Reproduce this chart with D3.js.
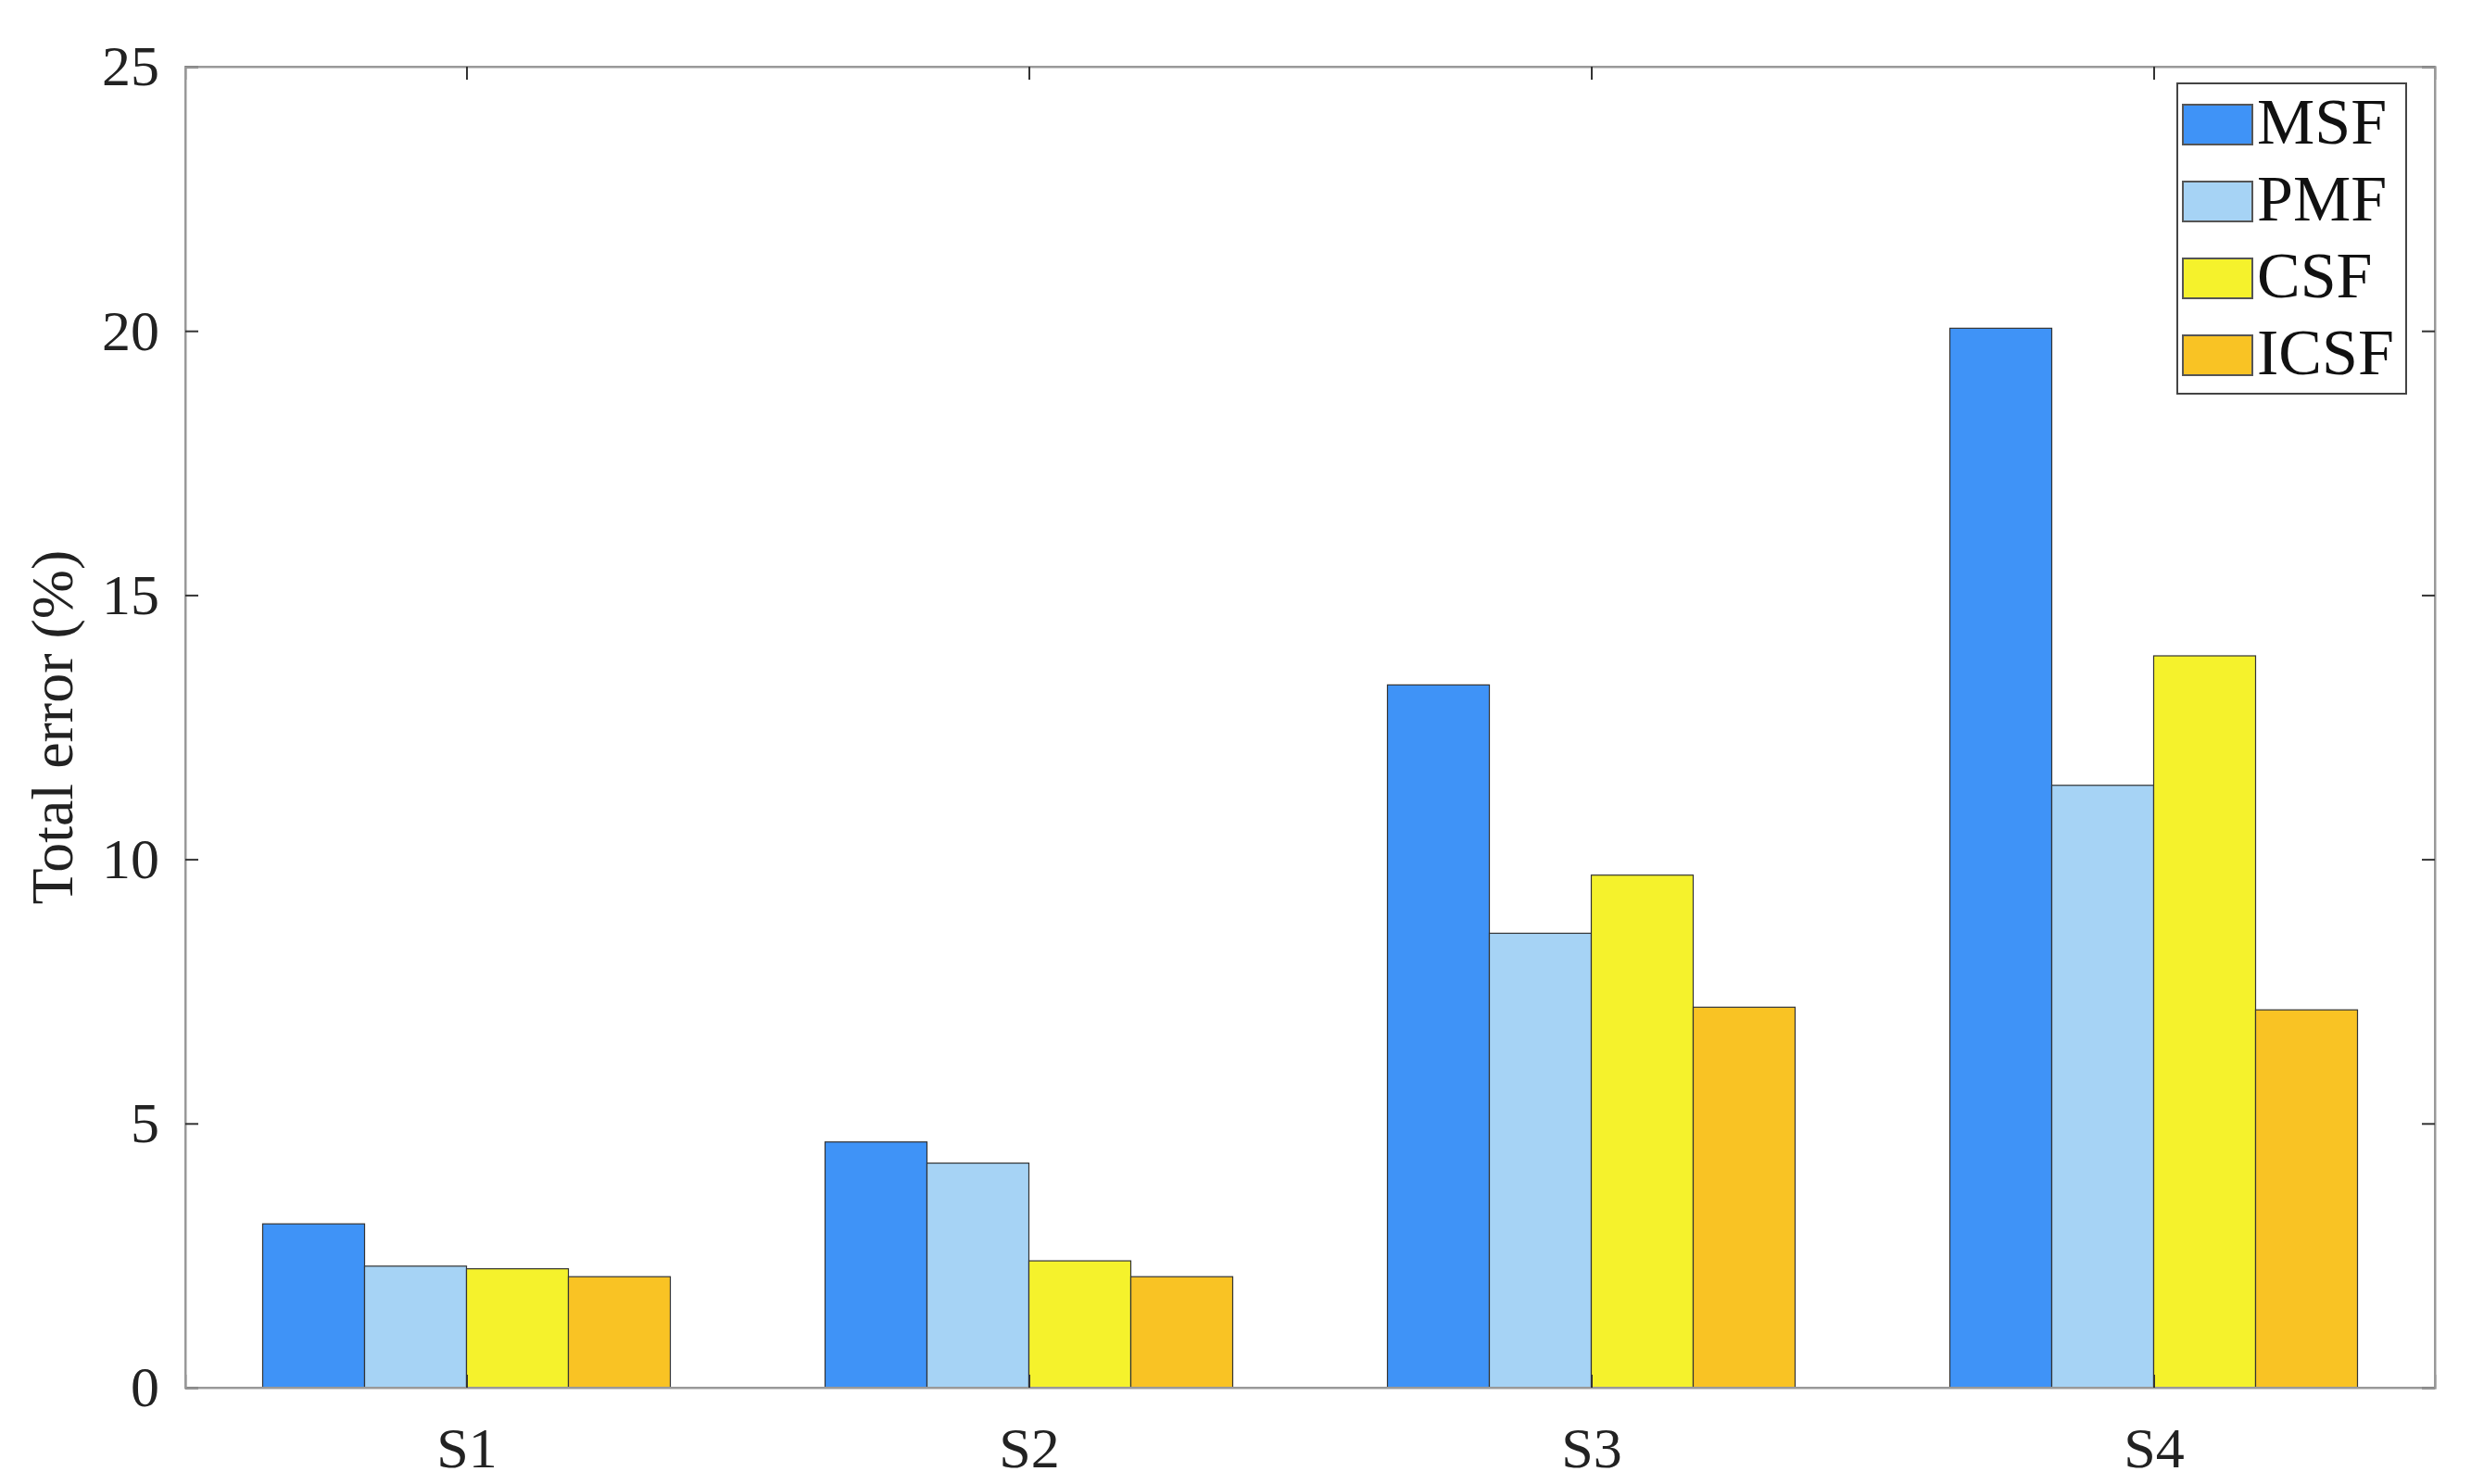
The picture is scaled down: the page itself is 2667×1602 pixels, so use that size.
<!DOCTYPE html><html><head><script src="https://cdn.jsdelivr.net/npm/d3@7"></script>
<style>body{margin:0;background:#fff}text{font-family:"Liberation Serif","Times New Roman",serif}</style></head><body>
<svg id="c" width="2667" height="1602"></svg>
<script>
const categories=["S1","S2","S3","S4"];
const seriesNames=["MSF","PMF","CSF","ICSF"];
const MSF=[3.1,4.65,13.3,20.05];
const PMF=[2.3,4.25,8.6,11.4];
const CSF=[2.25,2.4,9.7,13.85];
const ICSF=[2.1,2.1,7.2,7.15];
const yTicks=[0,5,10,15,20,25];
const colors=["#3f93f7","#a6d3f5","#f5f22c","#f9c324"];
const series=[MSF,PMF,CSF,ICSF];
const svg=d3.select("#c");
const L=200,R=2628,T=72,B=1498;
const x=d3.scaleLinear().domain([0.5,4.5]).range([L,R]);
const y=d3.scaleLinear().domain([0,25]).range([B,T]);
const bw=110;
series.forEach((s,si)=>{
  s.forEach((v,ci)=>{
    const cx=x(ci+1)+(si-1.5)*bw;
    svg.append("rect").attr("x",cx-bw/2).attr("y",y(v)).attr("width",bw).attr("height",y(0)-y(v))
      .attr("fill",colors[si]).attr("stroke","#333").attr("stroke-width",1.2);
  });
});
// frame
svg.append("rect").attr("x",L).attr("y",T).attr("width",R-L).attr("height",B-T).attr("fill","none").attr("stroke","#999").attr("stroke-width",2);
const ya=svg.append("g").attr("transform",`translate(${L},0)`).call(d3.axisLeft(y).tickValues(yTicks).tickSize(-14).tickPadding(28));
const yr=svg.append("g").attr("transform",`translate(${R},0)`).call(d3.axisRight(y).tickValues(yTicks).tickSize(-14).tickFormat(""));
const xa=svg.append("g").attr("transform",`translate(0,${B})`).call(d3.axisBottom(x).tickValues([1,2,3,4]).tickFormat(d=>categories[d-1]).tickSize(-14).tickPadding(30));
const xt=svg.append("g").attr("transform",`translate(0,${T})`).call(d3.axisTop(x).tickValues([1,2,3,4]).tickSize(-14).tickFormat(""));
[ya,yr,xa,xt].forEach(g=>{g.select(".domain").attr("stroke","#999").attr("stroke-width",2);g.selectAll("line").attr("stroke","#333").attr("stroke-width",2);g.selectAll("text").attr("font-size",62).attr("fill","#222").attr("font-family","Liberation Serif");});
xa.selectAll("text").attr("dy","0.9em");
svg.append("text").attr("transform",`translate(78,${(T+B)/2}) rotate(-90)`).attr("text-anchor","middle").attr("font-size",64).attr("fill","#222").text("Total error (%)");
// legend
const lg=svg.append("g");
lg.append("rect").attr("x",2350).attr("y",90).attr("width",247).attr("height",335).attr("fill","#fff").attr("stroke","#444").attr("stroke-width",2);
seriesNames.forEach((n,i)=>{
  const yy=113+i*83;
  lg.append("rect").attr("x",2356).attr("y",yy).attr("width",75).attr("height",43).attr("fill",colors[i]).attr("stroke","#555").attr("stroke-width",2);
  lg.append("text").attr("x",2436).attr("y",yy+42).attr("font-size",70).attr("fill","#111").text(n);
});
</script></body></html>
